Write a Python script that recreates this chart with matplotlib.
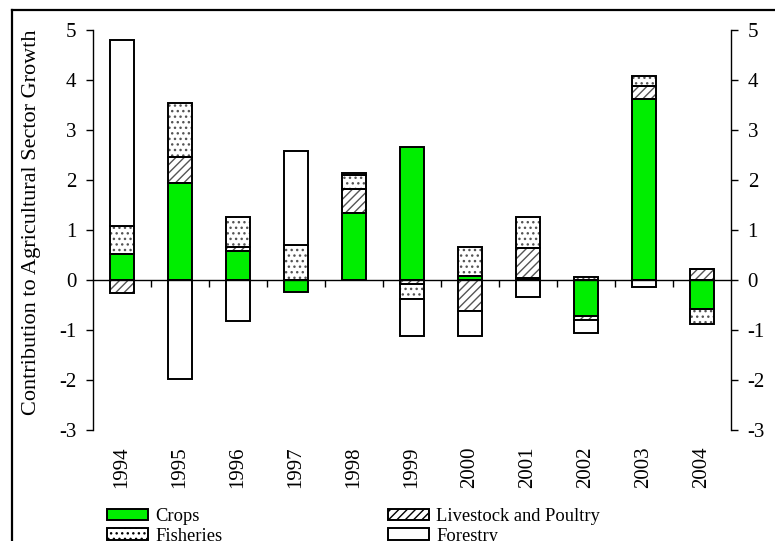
import numpy as np
import matplotlib
matplotlib.use("Agg")
import matplotlib.pyplot as plt
from matplotlib.lines import Line2D
from matplotlib.patches import Patch

plt.rcParams['font.family'] = ['Liberation Serif', 'DejaVu Serif']
plt.rcParams['hatch.linewidth'] = 1.0
plt.rcParams['axes.unicode_minus'] = False

# contribution to agricultural growth by sub-sector (percentage points)
years = ['1994', '1995', '1996', '1997', '1998', '1999',
         '2000', '2001', '2002', '2003', '2004']
crops = [0.52, 1.95, 0.59, -0.24, 1.34, 2.67, 0.09, 0.05, -0.72, 3.62, -0.57]
livestock = [-0.25, 0.52, 0.08, 0.0, 0.49, -0.07, -0.61, 0.60, -0.07, 0.26, 0.23]
fisheries = [0.56, 1.08, 0.60, 0.71, 0.27, -0.30, 0.58, 0.62, 0.07, 0.20, -0.31]
forestry = [3.72, -1.97, -0.81, 1.88, 0.05, -0.75, -0.51, -0.33, -0.26, -0.13, 0.0]

series = [
    ('Crops', crops, '#00ee00', None),
    ('Livestock and Poultry', livestock, 'white', '////'),
    ('Fisheries', fisheries, 'white', '...'),
    ('Forestry', forestry, 'white', None),
]

fig = plt.figure(figsize=(7.75, 5.41), dpi=100)
ax = fig.add_axes([93 / 775, 1 - 430 / 541, 638 / 775, 400 / 541])

x = np.arange(len(years))
width = 0.41
pos_base = np.zeros(len(years))
neg_base = np.zeros(len(years))

for name, vals, color, hatch in series:
    vals = np.array(vals)
    bottoms = np.where(vals >= 0, pos_base, neg_base)
    if hatch:
        # hatch drawn in grey underneath, black outline on top
        ax.bar(x, vals, width, bottom=bottoms, color=color, hatch=hatch,
               edgecolor='#555555', linewidth=0, zorder=2)
        ax.bar(x, vals, width, bottom=bottoms, fill=False,
               edgecolor='black', linewidth=1.4, zorder=3)
    else:
        ax.bar(x, vals, width, bottom=bottoms, color=color,
               edgecolor='black', linewidth=1.4, zorder=3)
    pos_base += np.where(vals >= 0, vals, 0)
    neg_base += np.where(vals < 0, vals, 0)

ax.set_xlim(-0.5, len(years) - 0.5)
ax.set_ylim(-3, 5)
ax.set_yticks(range(-3, 6))

ax.spines['top'].set_visible(False)
ax.spines['bottom'].set_position(('data', 0))
for s in ['left', 'right', 'bottom']:
    ax.spines[s].set_linewidth(1.0)
    ax.spines[s].set_zorder(4)

ax.tick_params(axis='y', which='both', left=True, right=True, labelleft=True,
               labelright=True, direction='out', length=5, width=1.0,
               labelsize=15, pad=7)

# category boundary ticks on the zero line
ax.set_xticks(np.arange(0.5, len(years) - 0.5, 1.0))
ax.tick_params(axis='x', direction='out', length=5, width=1.0, labelbottom=False)

# year labels placed below the plot area
sec = ax.secondary_xaxis(-0.0)
sec.set_xticks(x)
sec.set_xticklabels(years, rotation=90)
sec.tick_params(length=0, labelsize=15, pad=12)
sec.spines['bottom'].set_visible(False)

ax.set_ylabel('Contribution to Agricultural Sector Growth', fontsize=16)
ax.yaxis.set_label_coords(-0.081, 0.52)

handles = [Patch(facecolor='#00ee00', edgecolor='black', linewidth=1.4),
           Patch(facecolor='white', edgecolor='black', hatch='...', linewidth=1.4),
           Patch(facecolor='white', edgecolor='black', hatch='////', linewidth=1.4),
           Patch(facecolor='white', edgecolor='black', linewidth=1.4)]
labels = ['Crops', 'Fisheries', 'Livestock and Poultry', 'Forestry']
fig.legend(handles, labels, ncol=2, loc='upper left',
           bbox_to_anchor=(94 / 775, 1 - 495 / 541), frameon=False,
           fontsize=13.3, handlelength=2.2, handleheight=0.6, handletextpad=0.4,
           labelspacing=0.15, columnspacing=9.0, borderpad=0.2)

# outer chart border
fig.add_artist(Line2D([12 / 775, 12 / 775], [0, 1 - 10 / 541], color='black', linewidth=1.6))
fig.add_artist(Line2D([12 / 775, 1], [1 - 10 / 541, 1 - 10 / 541], color='black', linewidth=1.6))

fig.savefig('out.png', dpi=100)
